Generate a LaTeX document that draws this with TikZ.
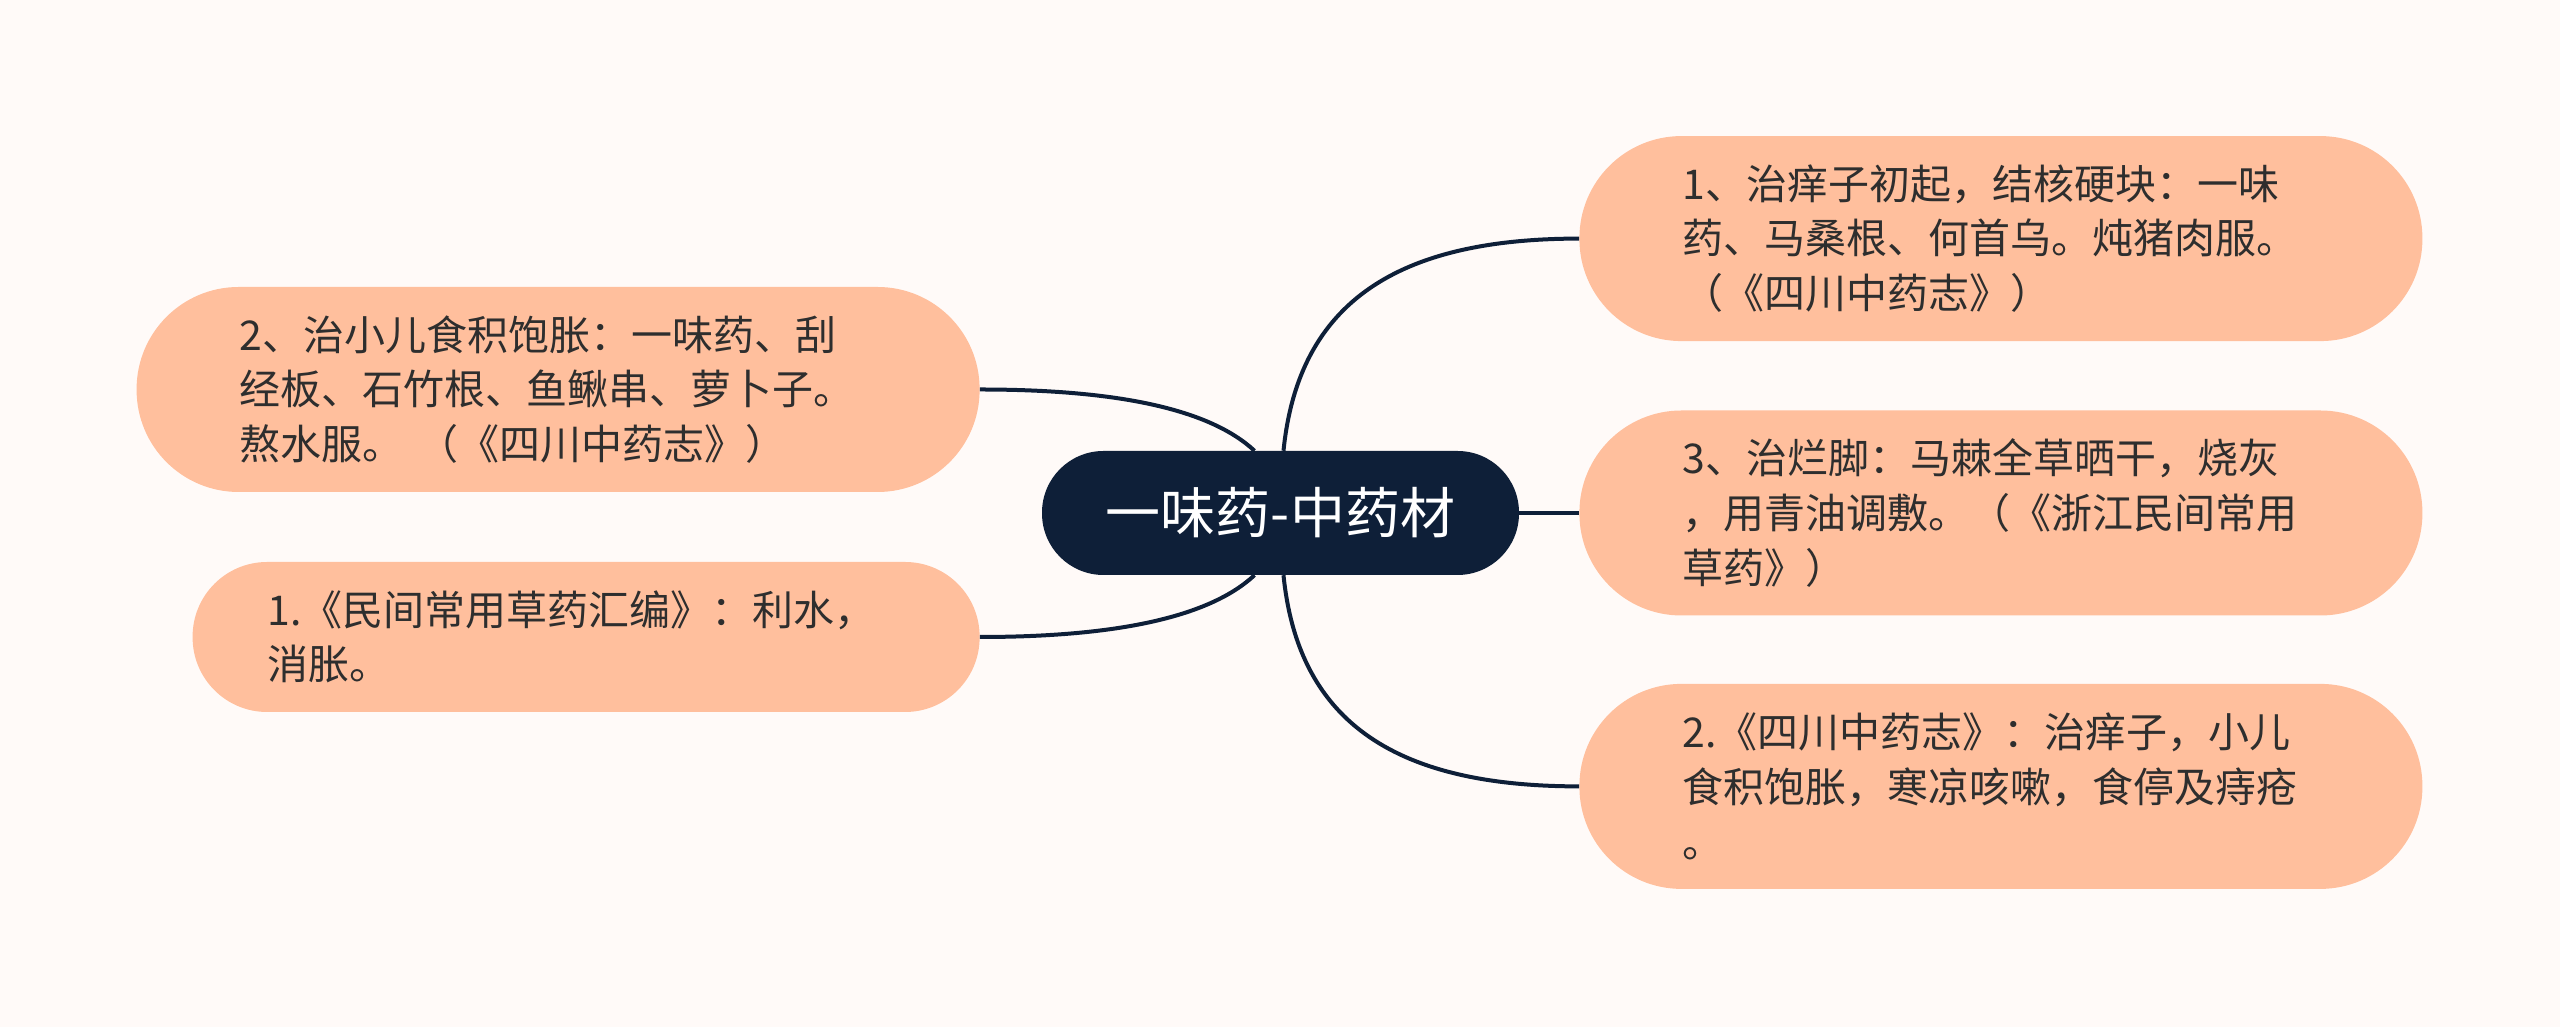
\documentclass[tikz,border=0pt]{standalone}
\usepackage{fontspec}
\setmainfont{Noto Sans CJK SC}
\usepackage{xcolor}
\usetikzlibrary{positioning}

\definecolor{hubnavy}{HTML}{0E1F38}
\definecolor{leafpeach}{HTML}{FFBF9D}
\definecolor{bgpaper}{HTML}{FFFAF8}
\definecolor{inkgray}{HTML}{2E2E2E}

\begin{document}
\begin{tikzpicture}[
    x=1pt, y=1pt,
    hub/.style={rectangle, rounded corners=61.5pt, fill=hubnavy, text=white,
                font=\fontsize{55pt}{60pt}\selectfont,
                minimum width=477pt, minimum height=124pt},
    leaf/.style={rectangle, rounded corners=102pt, fill=leafpeach, text=inkgray,
                 text width=637pt, align=left,
                 font=\fontsize{41pt}{54.7pt}\selectfont,
                 minimum width=843pt, minimum height=205pt},
    short/.style={rounded corners=74.5pt, minimum width=787pt, minimum height=150pt},
    link/.style={draw=hubnavy, line width=4pt},
    node distance=60pt,
]
\fill[bgpaper] (0,0) rectangle (2560,1027);
\useasboundingbox (0,0) rectangle (2560,1027);

\node[hub] (hub) at (1280.5,514) {一味药-中药材};

% right side
\node[leaf, right=of hub] (r2) {3、治烂脚：马棘全草晒干，烧灰\\，用青油调敷。（《浙江民间常用\\草药》）};
\node[leaf, above=69pt of r2] (r1) {1、治痒子初起，结核硬块：一味\\药、马桑根、何首乌。炖猪肉服。\\（《四川中药志》）};
\node[leaf, below=68pt of r2] (r3) {2.《四川中药志》：治痒子，小儿\\食积饱胀，寒凉咳嗽，食停及痔疮\\。};

% left side
\node[leaf, left=62pt of hub, yshift=123.5pt] (l1) {2、治小儿食积饱胀：一味药、刮\\经板、石竹根、鱼鳅串、萝卜子。\\熬水服。 （《四川中药志》）};
\node[leaf, short, left=62pt of hub, yshift=-124pt] (l2) {1.《民间常用草药汇编》：利水，\\消胀。};

\draw[link] (hub.east) -- (r2.west);
\draw[link] ([xshift=3pt]hub.north) .. controls +(15,150) and +(-180,0) .. (r1.west);
\draw[link] ([xshift=3pt]hub.south) .. controls +(15,-150) and +(-180,0) .. (r3.west);
\draw[link] (l1.east) .. controls +(140,0) and +(-44,41) .. ([xshift=-26pt]hub.north);
\draw[link] (l2.east) .. controls +(140,0) and +(-44,-41) .. ([xshift=-26pt]hub.south);
\end{tikzpicture}
\end{document}
